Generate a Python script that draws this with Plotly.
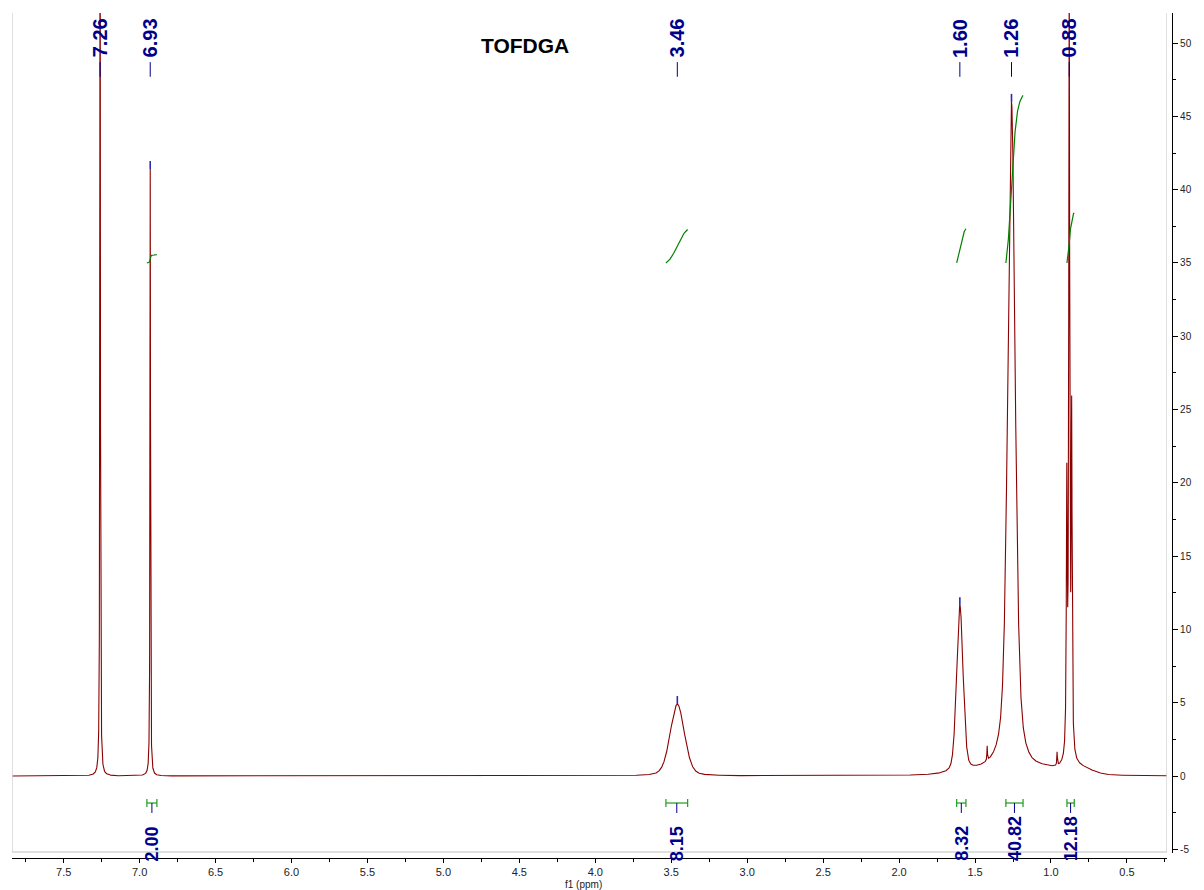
import numpy as np
import plotly.graph_objects as go

title_text = "TOFDGA"

# spectral window (ppm), drawn from high field on the left to low field on the right
ppm_start = 7.84
ppm_end = 0.236

# signals: position (ppm), height, FWHM (ppm), Lorentzian fraction of the line shape
peak_ppm = [7.26, 6.93, 3.46, 1.60, 1.26, 0.896, 0.880, 0.864, 1.42, 0.96, 1.43, 1.05, 0.84]
peak_height = [70.0, 41.4, 4.9, 11.4, 45.9, 18.0, 54.0, 22.6, 1.0, 0.9, 0.2, 0.25, 0.55]
peak_fwhm = [0.004, 0.004, 0.11, 0.05, 0.058, 0.007, 0.007, 0.007, 0.004, 0.004, 0.25, 0.14, 0.22]
peak_lorentz = [1.0, 1.0, 0.25, 0.3, 0.55, 1.0, 1.0, 1.0, 1.0, 1.0, 0.0, 0.0, 0.0]

# picked peaks
pick_ppm = [7.26, 6.93, 3.46, 1.60, 1.26, 0.88]
pick_text = ["7.26", "6.93", "3.46", "1.60", "1.26", "0.88"]

# integration regions (ppm) and their integrals
int_from = [6.952, 3.535, 1.621, 1.297, 0.895]
int_to = [6.886, 3.392, 1.560, 1.184, 0.847]
int_value = [2.00, 8.15, 8.32, 40.82, 12.18]
int_text = ["2.00", "8.15", "8.32", "40.82", "12.18"]

# axis ticks
x_ticks = [7.5, 7.0, 6.5, 6.0, 5.5, 5.0, 4.5, 4.0, 3.5, 3.0, 2.5, 2.0, 1.5, 1.0, 0.5]
x_tick_text = ["7.5", "7.0", "6.5", "6.0", "5.5", "5.0", "4.5", "4.0", "3.5", "3.0",
               "2.5", "2.0", "1.5", "1.0", "0.5"]
x_minor = [7.75, 7.25, 6.75, 6.25, 5.75, 5.25, 4.75, 4.25, 3.75, 3.25, 2.75, 2.25,
           1.75, 1.25, 0.75, 0.25]
y_ticks = [-5, 0, 5, 10, 15, 20, 25, 30, 35, 40, 45, 50]
y_tick_text = ["-5", "0", "5", "10", "15", "20", "25", "30", "35", "40", "45", "50"]
y_minor = [-2.5, 2.5, 7.5, 12.5, 17.5, 22.5, 27.5, 32.5, 37.5, 42.5, 47.5]

y_min, y_max = -5.25, 52.05

SPEC_COLOR = "#8b0000"
LABEL_COLOR = "#00008b"
INT_COLOR = "#008000"
BRACKET_COLOR = "#1f9a1f"
FONT = "Liberation Sans, Arial, Helvetica, sans-serif"


def spectrum(x):
    """Sum of pseudo-Voigt lines built from the signal table."""
    x = np.asarray(x, dtype=float)
    y = np.zeros_like(x)
    for c, h, w, eta in zip(peak_ppm, peak_height, peak_fwhm, peak_lorentz):
        d = (x - c) / (w / 2.0)
        lor = 1.0 / (1.0 + d ** 2)
        gau = np.exp(-np.log(2.0) * d ** 2)
        y += h * (eta * lor + (1.0 - eta) * gau)
    return y


# sampling grid, with the signal centres included so every maximum is drawn
ppm = np.union1d(np.linspace(ppm_end, ppm_start, 19011), np.array(peak_ppm))[::-1]
intensity = spectrum(ppm)

fig = go.Figure()

# spectrum trace
fig.add_trace(go.Scatter(x=ppm, y=intensity, mode="lines",
                         line=dict(color=SPEC_COLOR, width=1.1),
                         hoverinfo="skip", showlegend=False))

# integral curves: running integral over each region, starting from a common level
INT_BASE = 35.0
INT_SCALE = 0.28
for a, b, v in zip(int_from, int_to, int_value):
    xs = np.linspace(a, b, 200)
    ys = spectrum(xs)
    cum = np.cumsum(ys)
    cum = cum - cum[0]
    curve = INT_BASE + v * INT_SCALE * cum / cum[-1]
    fig.add_trace(go.Scatter(x=xs, y=curve, mode="lines",
                             line=dict(color=INT_COLOR, width=1.2),
                             hoverinfo="skip", showlegend=False))

shapes = []
annotations = []

# light frame around the spectrum area
frame = dict(type="line", line=dict(color="#d4d4d4", width=1.5), xref="x", yref="y")
shapes.append(dict(frame, x0=ppm_start, x1=ppm_start, y0=-5.18, y1=y_max))
shapes.append(dict(frame, x0=ppm_end, x1=ppm_end, y0=-5.18, y1=y_max))
shapes.append(dict(frame, x0=ppm_start, x1=ppm_end, y0=-5.18, y1=-5.18))

# peak labels along the top with their marker lines
for p, t in zip(pick_ppm, pick_text):
    annotations.append(dict(x=p, y=51.8, xref="x", yref="y", text=t, textangle=-90,
                            showarrow=False, xanchor="center", yanchor="top",
                            font=dict(family=FONT, size=20, color=LABEL_COLOR, weight="bold")))
    shapes.append(dict(type="line", xref="x", yref="y", x0=p, x1=p, y0=48.7, y1=47.7,
                       line=dict(color=LABEL_COLOR, width=1)))
    top = float(spectrum([p])[0])
    if top < y_max - 1:
        shapes.append(dict(type="line", xref="x", yref="y", x0=p, x1=p,
                           y0=top, y1=top + 0.55,
                           line=dict(color="#2a2ab0", width=1.6)))

# integration brackets and values below the baseline
BR_Y = -1.84
for a, b, t in zip(int_from, int_to, int_text):
    mid = (a + b) / 2.0
    br = dict(type="line", xref="x", yref="y", line=dict(color=BRACKET_COLOR, width=1.2))
    shapes.append(dict(br, x0=a, x1=b, y0=BR_Y, y1=BR_Y))
    shapes.append(dict(br, x0=a, x1=a, y0=BR_Y + 0.28, y1=BR_Y - 0.28))
    shapes.append(dict(br, x0=b, x1=b, y0=BR_Y + 0.28, y1=BR_Y - 0.28))
    shapes.append(dict(type="line", xref="x", yref="y", x0=mid, x1=mid,
                       y0=BR_Y, y1=BR_Y - 0.68, line=dict(color=LABEL_COLOR, width=1)))
    annotations.append(dict(x=mid, y=-0.006, xref="x", yref="paper", text=t, textangle=-90,
                            showarrow=False, xanchor="center", yanchor="bottom",
                            font=dict(family=FONT, size=18, color=LABEL_COLOR, weight="bold")))

# title and axis caption
annotations.append(dict(x=0.4419, y=0.9615, xref="paper", yref="paper", text=title_text,
                        showarrow=False, xanchor="center", yanchor="middle",
                        font=dict(family=FONT, size=21, color="black", weight="bold")))
annotations.append(dict(x=0.4923, y=-0.0308, xref="paper", yref="paper", text="f1 (ppm)",
                        showarrow=False, xanchor="center", yanchor="middle",
                        font=dict(family=FONT, size=10, color="#222222")))

fig.update_layout(
    width=1204, height=890,
    margin=dict(l=12, r=22, t=13, b=32, pad=0),
    paper_bgcolor="white", plot_bgcolor="white",
    showlegend=False,
    shapes=shapes,
    annotations=annotations,
    xaxis=dict(
        range=[ppm_start, ppm_end], domain=[0, 1165 / 1170],
        anchor="free", position=0,
        showgrid=False, zeroline=False,
        showline=True, linecolor="black", linewidth=1,
        ticks="outside", ticklen=4, tickcolor="black", tickwidth=1,
        tickmode="array", tickvals=x_ticks, ticktext=x_tick_text,
        tickfont=dict(family=FONT, size=11, color="#222222"),
        minor=dict(tickmode="array", tickvals=x_minor, ticks="outside",
                   ticklen=3, tickcolor="black", showgrid=False),
    ),
    yaxis=dict(
        range=[y_min, y_max], domain=[5 / 845, 1],
        anchor="free", position=1, side="right",
        showgrid=False, zeroline=False,
        showline=True, linecolor="black", linewidth=1.2,
        ticks="outside", ticklen=5, tickcolor="black", tickwidth=1,
        tickmode="array", tickvals=y_ticks, ticktext=y_tick_text,
        tickfont=dict(family=FONT, size=10, color="#222222"),
        minor=dict(tickmode="array", tickvals=y_minor, ticks="outside",
                   ticklen=3, tickcolor="black", showgrid=False),
    ),
)

fig.write_html("out.html")
